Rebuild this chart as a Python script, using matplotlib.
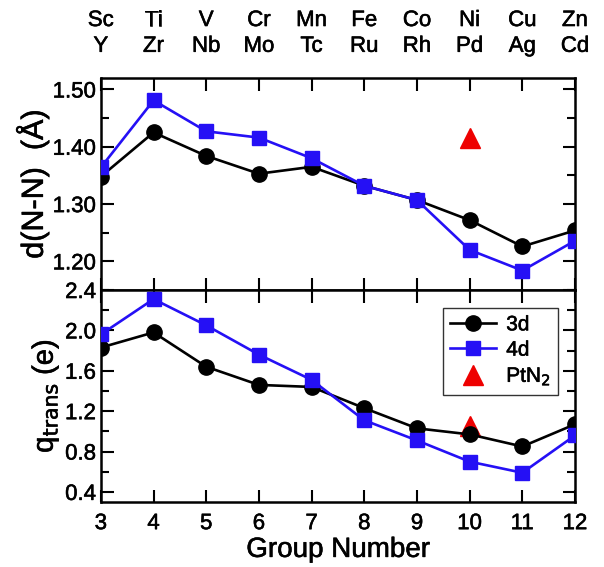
import numpy as np
import matplotlib
matplotlib.use('Agg')
import matplotlib.pyplot as plt
import matplotlib.patheffects as pe

plt.rcParams['font.family'] = ['Liberation Sans Narrow', 'Liberation Sans', 'DejaVu Sans']
plt.rcParams['mathtext.fontset'] = 'custom'
plt.rcParams['mathtext.rm'] = 'Liberation Sans Narrow'
plt.rcParams['mathtext.it'] = 'Liberation Sans Narrow'

groups = [3, 4, 5, 6, 7, 8, 9, 10, 11, 12]
elem_3d = ['Sc', 'Ti', 'V', 'Cr', 'Mn', 'Fe', 'Co', 'Ni', 'Cu', 'Zn']
elem_4d = ['Y', 'Zr', 'Nb', 'Mo', 'Tc', 'Ru', 'Rh', 'Pd', 'Ag', 'Cd']

# N-N bond length (Angstrom)
dnn_3d = [1.348, 1.425, 1.384, 1.353, 1.365, 1.332, 1.307, 1.272, 1.226, 1.254]
dnn_4d = [1.364, 1.481, 1.427, 1.416, 1.380, 1.332, 1.307, 1.220, 1.184, 1.236]
dnn_pt = 1.416

# charge transfer (e)
q_3d = [1.83, 1.98, 1.64, 1.46, 1.44, 1.23, 1.03, 0.97, 0.85, 1.07]
q_4d = [1.96, 2.31, 2.05, 1.76, 1.51, 1.11, 0.91, 0.70, 0.59, 0.96]
q_pt = 1.05

pt_group = 10
blue = '#2510f5'

fig = plt.figure(figsize=(6.04, 5.67), dpi=100)
ax1 = fig.add_axes([0.167, 0.4885, 0.785, 0.3739])
ax2 = fig.add_axes([0.167, 0.1146, 0.785, 0.3739])

def style(ax):
    ax.tick_params(which='both', direction='in', top=True, right=True,
                   width=1.5, labelsize=16)
    ax.tick_params(which='major', length=9)
    ax.tick_params(which='minor', length=6)
    for s in ax.spines.values():
        s.set_linewidth(1.8)
    ax.set_xlim(3, 12)
    ax.set_xticks(groups)

ax1.plot(groups, dnn_3d, '-o', color='black', lw=1.9, ms=11, label='3d', zorder=3)
ax1.plot(groups, dnn_4d, '-s', color=blue, lw=1.9, ms=10, label='4d', zorder=4)
ax1.plot([pt_group], [dnn_pt], '^', color='#ee0000', ms=14, ls='none', label='PtN$_2$')
style(ax1)
ax1.set_ylim(1.15, 1.52)
ax1.set_yticks([1.20, 1.30, 1.40, 1.50])
ax1.set_yticklabels(['1.20', '1.30', '1.40', '1.50'])
ax1.set_yticks(np.arange(1.15, 1.52, 0.05), minor=True)
ax1.tick_params(labelbottom=False)
ax1.set_ylabel('d(N-N)  (Å)', fontsize=22, labelpad=2)

for g, a, b in zip(groups, elem_3d, elem_4d):
    ax1.text(g, 1.10, a + '\n' + b, transform=ax1.get_xaxis_transform(),
             ha='center', va='bottom', fontsize=16, linespacing=1.3)

ax2.plot(groups, q_3d, '-o', color='black', lw=1.9, ms=11, label='3d', zorder=3)
ax2.plot(groups, q_4d, '-s', color=blue, lw=1.9, ms=10, label='4d', zorder=4)
ax2.plot([pt_group], [q_pt], '^', color='#ee0000', ms=14, ls='none', label='PtN$_2$')
style(ax2)
ax2.set_ylim(0.3, 2.4)
ax2.set_yticks([0.4, 0.8, 1.2, 1.6, 2.0, 2.4])
ax2.set_yticks(np.arange(0.4, 2.41, 0.2), minor=True)
ax2.tick_params(axis='x', pad=8)
ax2.set_ylabel('q$_{\\mathrm{trans}}$ (e)', fontsize=21, labelpad=3)
ax2.set_xlabel('Group Number', fontsize=20, labelpad=2)

leg = ax2.legend(loc='upper right', bbox_to_anchor=(0.965, 0.915), fontsize=15,
                 frameon=True, fancybox=False, edgecolor='black', handlelength=2.2,
                 handletextpad=0.5, borderpad=0.35, labelspacing=0.3, borderaxespad=0)
leg.get_frame().set_linewidth(1.0)

# heavier strokes on all text, like the original rendering
for t in fig.findobj(matplotlib.text.Text):
    t.set_path_effects([pe.withStroke(linewidth=0.4, foreground='black')])

fig.savefig('out.png', dpi=100)
